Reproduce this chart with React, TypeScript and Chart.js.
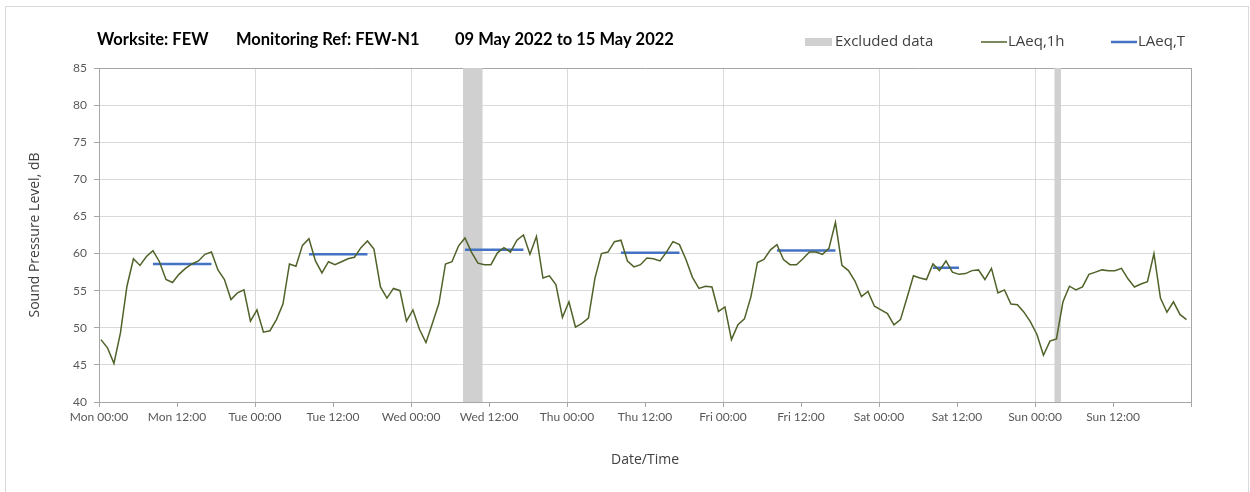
import React, { useEffect, useRef } from 'react';
import { Chart, registerables } from 'chart.js';

Chart.register(...registerables);

const FONT = 'Lato, "Open Sans", sans-serif';
const LEGEND_FONT = '"Open Sans", Lato, sans-serif';

// Hourly LAeq,1h values (dB), one array per day, Mon..Sun
const monday = [48.4, 47.3, 45.2, 49.3, 55.6, 59.3, 58.4, 59.6, 60.4, 58.9, 56.5, 56.1, 57.2, 58.0, 58.6, 59.0, 59.9, 60.2, 57.8, 56.5, 53.8, 54.7, 55.1, 50.9];
const tuesday = [52.4, 49.4, 49.6, 51.1, 53.2, 58.6, 58.3, 61.1, 62.0, 59.0, 57.4, 58.9, 58.5, 58.9, 59.3, 59.5, 60.8, 61.7, 60.6, 55.5, 54.0, 55.3, 55.0, 50.9];
const wednesday = [52.4, 49.8, 48.0, 50.6, 53.3, 58.6, 58.9, 61.0, 62.1, 60.2, 58.7, 58.5, 58.5, 60.1, 60.8, 60.2, 61.8, 62.5, 59.9, 62.3, 56.7, 57.0, 55.8, 51.4];
const thursday = [53.5, 50.1, 50.6, 51.3, 56.7, 60.0, 60.2, 61.6, 61.8, 59.0, 58.2, 58.5, 59.4, 59.3, 59.0, 60.2, 61.6, 61.2, 59.2, 56.8, 55.3, 55.6, 55.5, 52.2];
const friday = [52.8, 48.4, 50.4, 51.2, 54.2, 58.8, 59.2, 60.5, 61.2, 59.2, 58.5, 58.5, 59.3, 60.2, 60.2, 59.9, 60.7, 64.2, 58.4, 57.7, 56.3, 54.2, 54.9, 52.9];
const saturday = [52.4, 51.9, 50.4, 51.1, 54.0, 57.0, 56.7, 56.5, 58.6, 57.7, 59.0, 57.5, 57.2, 57.3, 57.7, 57.8, 56.5, 58.0, 54.7, 55.1, 53.2, 53.1, 52.1, 50.8];
const sunday = [49.1, 46.3, 48.2, 48.5, 53.5, 55.6, 55.1, 55.5, 57.2, 57.5, 57.8, 57.7, 57.7, 58.0, 56.6, 55.5, 55.9, 56.2, 60.0, 54.0, 52.1, 53.5, 51.8, 51.1];

// LAeq,T periods (hour index of first and last hourly point) and levels
const tStartHour = [8, 32, 56, 80, 104, 128];
const tEndHour = [17, 41, 65, 89, 113, 132];
const tLevels = [58.6, 59.9, 60.5, 60.1, 60.4, 58.1];

// Excluded data periods (hours from Mon 00:00)
const excludedStart = [56, 147];
const excludedEnd = [59, 148];

// X tick labels every 12 hours
const tickLabels = ['Mon 00:00', 'Mon 12:00', 'Tue 00:00', 'Tue 12:00', 'Wed 00:00', 'Wed 12:00', 'Thu 00:00', 'Thu 12:00', 'Fri 00:00', 'Fri 12:00', 'Sat 00:00', 'Sat 12:00', 'Sun 00:00', 'Sun 12:00'];

const titleParts = ['Worksite: FEW', 'Monitoring Ref: FEW-N1', '09 May 2022 to 15 May 2022'];
const legendLabels = ['Excluded data', 'LAeq,1h', 'LAeq,T'];

const POINT_OFFSET = 0.3;
const GREEN = '#4F6228';
const BLUE = '#4472C4';
const BAND = '#D0D0D0';
const GRID = '#D9D9D9';
const AXIS = '#A6A6A6';
const TEXT = '#404040';

export default function App() {
  const ref = useRef<HTMLCanvasElement>(null);

  useEffect(() => {
    const canvas = ref.current;
    if (!canvas) return;
    const hourly = [...monday, ...tuesday, ...wednesday, ...thursday, ...friday, ...saturday, ...sunday];
    const lineData = hourly.map((v, i) => ({ x: i + POINT_OFFSET, y: v }));
    const tData: any[] = [];
    tStartHour.forEach((s, i) => {
      tData.push({ x: s + POINT_OFFSET, y: tLevels[i] });
      tData.push({ x: tEndHour[i] + POINT_OFFSET, y: tLevels[i] });
      tData.push({ x: tEndHour[i] + POINT_OFFSET + 0.5, y: null });
    });

    const decorPlugin = {
      id: 'decor',
      beforeDraw(chart: any) {
        const ctx = chart.ctx;
        ctx.save();
        ctx.fillStyle = '#ffffff';
        ctx.fillRect(0, 0, chart.width, chart.height);
        ctx.strokeStyle = GRID;
        ctx.lineWidth = 1;
        ctx.strokeRect(5.5, 6.5, 1243, 495);
        ctx.restore();
      },
      beforeDatasetsDraw(chart: any) {
        const ctx = chart.ctx;
        const xs = chart.scales.x;
        const area = chart.chartArea;
        ctx.save();
        ctx.fillStyle = BAND;
        excludedStart.forEach((s, i) => {
          const x1 = xs.getPixelForValue(s);
          const x2 = xs.getPixelForValue(excludedEnd[i]);
          ctx.fillRect(x1, area.top, x2 - x1, area.bottom - area.top);
        });
        ctx.restore();
      },
      afterDraw(chart: any) {
        const ctx = chart.ctx;
        ctx.save();
        ctx.textBaseline = 'middle';
        ctx.fillStyle = '#000000';
        ctx.font = `bold 16.5px ${FONT}`;
        const titleX = [97, 236, 455];
        titleParts.forEach((t, i) => ctx.fillText(t, titleX[i], 40));

        ctx.font = `15px ${LEGEND_FONT}`;
        const ly = 42;
        ctx.fillStyle = BAND;
        ctx.fillRect(805, ly - 4, 27, 8);
        ctx.fillStyle = TEXT;
        ctx.fillText(legendLabels[0], 835, ly);

        ctx.strokeStyle = GREEN;
        ctx.lineWidth = 1.5;
        ctx.beginPath();
        ctx.moveTo(981, ly);
        ctx.lineTo(1007, ly);
        ctx.stroke();
        ctx.fillText(legendLabels[1], 1008, ly);

        ctx.strokeStyle = BLUE;
        ctx.lineWidth = 2.5;
        ctx.beginPath();
        ctx.moveTo(1111, ly);
        ctx.lineTo(1137, ly);
        ctx.stroke();
        ctx.fillText(legendLabels[2], 1138, ly);
        ctx.restore();
      },
    };

    const chart = new Chart(canvas, {
      type: 'line',
      data: {
        datasets: [
          {
            label: legendLabels[1],
            data: lineData,
            borderColor: GREEN,
            borderWidth: 1.5,
            pointRadius: 0,
            tension: 0,
          },
          {
            label: legendLabels[2],
            data: tData,
            borderColor: BLUE,
            borderWidth: 2.5,
            pointRadius: 0,
            spanGaps: false,
          },
        ],
      },
      options: {
        animation: false,
        responsive: false,
        maintainAspectRatio: false,
        layout: { padding: { left: 0, right: 59, top: 68, bottom: 0 } },
        plugins: { legend: { display: false }, tooltip: { enabled: false }, title: { display: false } },
        scales: {
          x: {
            type: 'linear',
            min: 0,
            max: 168,
            afterFit: (s: any) => { s.height = 90; },
            afterBuildTicks: (s: any) => {
              const t: any[] = [];
              for (let v = 0; v <= 168; v += 12) t.push({ value: v });
              s.ticks = t;
            },
            ticks: {
              autoSkip: false,
              maxRotation: 0,
              minRotation: 0,
              padding: 3,
              color: '#595959',
              font: { family: FONT, size: 12 },
              callback: (v: any) => tickLabels[Math.round(Number(v) / 12)] ?? '',
            },
            grid: {
              color: (c: any) => {
                const v = c.tick ? c.tick.value : 0;
                if (v === 168) return AXIS;
                if (v !== 0 && v % 24 === 0) return GRID;
                return 'rgba(0,0,0,0)';
              },
              tickColor: AXIS,
              tickLength: 5,
            },
            border: { color: AXIS },
            title: {
              display: true,
              text: 'Date/Time',
              color: TEXT,
              font: { family: LEGEND_FONT, size: 14 },
              padding: { top: 0, bottom: 24 },
            },
          },
          y: {
            min: 40,
            max: 85,
            afterFit: (s: any) => { s.width = 99; },
            ticks: {
              stepSize: 5,
              padding: 7,
              color: '#595959',
              font: { family: FONT, size: 12 },
            },
            grid: {
              color: (c: any) => {
                const v = c.tick ? c.tick.value : 0;
                if (v === 85 || v === 40) return AXIS;
                return GRID;
              },
              tickColor: AXIS,
              tickLength: 5,
            },
            border: { color: AXIS },
            title: {
              display: true,
              text: 'Sound Pressure Level, dB',
              color: TEXT,
              font: { family: LEGEND_FONT, size: 14 },
              padding: { top: 27, bottom: 0 },
            },
          },
        },
      },
      plugins: [decorPlugin],
    } as any);

    return () => chart.destroy();
  }, []);

  return (
    <div style={{ position: 'absolute', left: 0, top: 0, width: 1250, height: 492 }}>
      <canvas ref={ref} width={1250} height={492} style={{ width: 1250, height: 492, display: 'block' }} />
    </div>
  );
}
